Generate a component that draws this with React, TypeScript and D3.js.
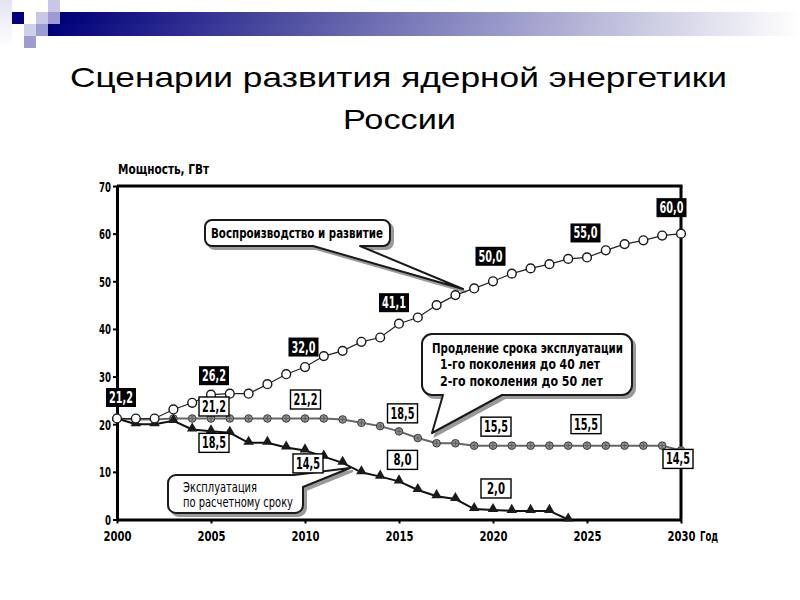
import { useEffect, useRef } from "react";
import { axisBottom, axisLeft, line, path, scaleLinear, select, symbol, symbolTriangle } from "d3";

// Years on the x axis
const years = [
  2000, 2001, 2002, 2003, 2004, 2005, 2006, 2007, 2008, 2009, 2010,
  2011, 2012, 2013, 2014, 2015, 2016, 2017, 2018, 2019, 2020,
  2021, 2022, 2023, 2024, 2025, 2026, 2027, 2028, 2029, 2030,
];

// "Воспроизводство и развитие", GW
const reproduction = [
  21.2, 21.2, 21.2, 23.1, 24.5, 26.2, 26.4, 26.4, 28.4, 30.5, 32.0,
  34.3, 35.4, 37.3, 38.2, 41.1, 42.4, 45.0, 47.1, 48.5, 50.0,
  51.6, 52.7, 53.6, 54.7, 55.0, 56.5, 57.8, 58.6, 59.6, 60.0,
];

// "Продление срока эксплуатации", GW
const extension = [
  21.2, 21.0, 21.0, 21.2, 21.2, 21.2, 21.2, 21.2, 21.2, 21.2, 21.2,
  21.2, 21.0, 20.3, 19.6, 18.5, 17.1, 16.0, 16.0, 15.5, 15.5,
  15.5, 15.5, 15.5, 15.5, 15.5, 15.5, 15.5, 15.5, 15.5, 14.5,
];

// "Эксплуатация по расчетному сроку", GW (ends in 2024)
const designLife = [
  21.2, 20.0, 20.0, 20.7, 18.9, 18.5, 18.2, 16.1, 16.1, 15.1, 14.5,
  13.2, 11.9, 9.9, 9.0, 8.0, 6.2, 4.9, 4.3, 2.2, 2.0,
  1.8, 1.8, 1.8, 0,
];

// years that carry a value label
const reproductionLabelYears = [2000, 2005, 2010, 2015, 2020, 2025, 2030];
const extensionLabelYears = [2005, 2010, 2015, 2020, 2025, 2030];
const designLabelYears = [2005, 2010, 2015, 2020];

const yTicks = [0, 10, 20, 30, 40, 50, 60, 70];
const xTicks = [2000, 2005, 2010, 2015, 2020, 2025, 2030];

// label placement relative to the point (px)
const reproductionOffsets = [[4, -21], [3, -19], [-1.5, -20], [-5, -21], [-2.5, -25], [-1.5, -24.5], [-9.5, -26]];
const extensionOffsets = [[3, -12], [0.5, -19], [3.5, -18], [3, -19], [-1, -21.5], [-3, 8.5]];
const designOffsets = [[3, 11.5], [3, 13], [3.5, -21.5], [3, -21.5]];

const COND = "'DejaVu Sans Condensed', 'DejaVu Sans', sans-serif";
const fmt = (v: number) => v.toFixed(1).replace(".", ",");
// the reference font is very narrow, so text widths are squeezed to fit
const narrow = (s: string, per: number) => s.length * per;

const margin = { top: 186, right: 119, bottom: 80.5, left: 117 };
const W = 800;
const H = 600;

const x = scaleLinear().domain([2000, 2030]).range([margin.left, W - margin.right]);
const y = scaleLinear().domain([0, 70]).range([H - margin.bottom, margin.top]);

function bubbleBottom(bx: number, by: number, w: number, h: number, r: number,
  xa: number, xb: number, tx: number, ty: number) {
  const p = path();
  p.moveTo(bx + r, by);
  p.lineTo(bx + w - r, by);
  p.arcTo(bx + w, by, bx + w, by + r, r);
  p.lineTo(bx + w, by + h - r);
  p.arcTo(bx + w, by + h, bx + w - r, by + h, r);
  p.lineTo(xb, by + h);
  p.lineTo(tx, ty);
  p.lineTo(xa, by + h);
  p.lineTo(bx + r, by + h);
  p.arcTo(bx, by + h, bx, by + h - r, r);
  p.lineTo(bx, by + r);
  p.arcTo(bx, by, bx + r, by, r);
  p.closePath();
  return p.toString();
}

function bubbleCorner(bx: number, by: number, w: number, h: number, r: number,
  xa: number, yb: number, tx: number, ty: number) {
  const p = path();
  p.moveTo(bx + r, by);
  p.lineTo(xa, by);
  p.lineTo(tx, ty);
  p.lineTo(bx + w, yb);
  p.lineTo(bx + w, by + h - r);
  p.arcTo(bx + w, by + h, bx + w - r, by + h, r);
  p.lineTo(bx + r, by + h);
  p.arcTo(bx, by + h, bx, by + h - r, r);
  p.lineTo(bx, by + r);
  p.arcTo(bx, by, bx + r, by, r);
  p.closePath();
  return p.toString();
}

const Bubble: React.FC<{ d: string }> = ({ d }) => (
  <>
    <path d={d} transform="translate(3,3)" fill="#9a9a9a" stroke="#9a9a9a" strokeWidth={2} />
    <path d={d} fill="#fff" stroke="#1a1a1a" strokeWidth={2} strokeLinejoin="round" />
  </>
);

const ValueLabel: React.FC<{ cx: number; cy: number; text: string; dark: boolean }> = ({ cx, cy, text, dark }) => {
  const w = 30;
  const h = 19;
  return (
    <g>
      <rect x={cx - w / 2} y={cy - h / 2} width={w} height={h}
        fill={dark ? "#000" : "#fff"} stroke="#000" strokeWidth={dark ? 0 : 1.4} />
      <text x={cx} y={cy + 5.5} textAnchor="middle" fontFamily={COND} fontWeight="bold"
        fontSize={15} fill={dark ? "#fff" : "#000"}
        textLength={narrow(text, 6)} lengthAdjust="spacingAndGlyphs">{text}</text>
    </g>
  );
};

const App: React.FC = () => {
  const yAxisRef = useRef<SVGGElement>(null);
  const xAxisRef = useRef<SVGGElement>(null);

  useEffect(() => {
    if (yAxisRef.current) {
      const g = select(yAxisRef.current);
      g.call(axisLeft(y).tickValues(yTicks).tickSize(4).tickSizeOuter(0).tickFormat((d) => String(d)));
      g.select(".domain").attr("stroke", "#000").attr("stroke-width", 3);
      g.selectAll(".tick line").attr("stroke", "#000").attr("stroke-width", 2);
      g.selectAll<SVGTextElement, number>(".tick text").attr("font-family", COND).attr("font-weight", "bold")
        .attr("font-size", 14).attr("fill", "#000").attr("x", -6).attr("dy", "0.36em")
        .attr("textLength", (d) => narrow(String(d), 6)).attr("lengthAdjust", "spacingAndGlyphs");
    }
    if (xAxisRef.current) {
      const g = select(xAxisRef.current);
      g.call(axisBottom(x).tickValues(xTicks).tickSize(4).tickSizeOuter(0).tickFormat((d) => String(d)));
      g.select(".domain").attr("stroke", "#000").attr("stroke-width", 3);
      g.selectAll(".tick line").attr("stroke", "#000").attr("stroke-width", 2);
      g.selectAll<SVGTextElement, number>(".tick text").attr("font-family", COND).attr("font-weight", "bold")
        .attr("font-size", 14).attr("fill", "#000").attr("y", 21).attr("dy", 0)
        .attr("textLength", 28).attr("lengthAdjust", "spacingAndGlyphs");
    }
  }, []);

  const lineGen = line<number>().x((_, i) => x(years[i])).y((v) => y(v));
  const tri = symbol().type(symbolTriangle).size(48)();

  const x0 = x(2000), x1 = x(2030), y0 = y(0), y1 = y(70);

  return (
    <svg width={W} height={H} style={{ position: "absolute", left: 0, top: 0, background: "#fff" }}>
      <defs>
        <linearGradient id="band" x1="0" x2="1" y1="0" y2="0">
          <stop offset="0" stopColor="#00007a" />
          <stop offset="0.5" stopColor="#8080bb" />
          <stop offset="1" stopColor="#ffffff" />
        </linearGradient>
        <linearGradient id="edge" x1="0" x2="0" y1="0" y2="1">
          <stop offset="0" stopColor="#e4e4f2" />
          <stop offset="1" stopColor="#ffffff" />
        </linearGradient>
      </defs>

      {/* slide header decoration */}
      <rect x={0} y={0} width={12} height={48} fill="url(#edge)" />
      <rect x={48} y={24} width={752} height={12} fill="url(#band)" />
      <rect x={60} y={12} width={740} height={12} fill="url(#band)" />
      <rect x={12} y={12} width={12} height={12} fill="#000080" />
      <rect x={36} y={12} width={12} height={12} fill="#c8c8e6" />
      <rect x={48} y={0} width={12} height={12} fill="#c8c8e6" />
      <rect x={48} y={12} width={12} height={12} fill="#9c9cd0" />
      <rect x={36} y={24} width={12} height={12} fill="#9c9cd0" />
      <rect x={24} y={24} width={12} height={12} fill="#cfcfea" />
      <rect x={24} y={36} width={12} height={12} fill="#9c9cd0" />

      {/* title */}
      <g fontFamily="'Liberation Sans', Arial, sans-serif" fontSize={28} fill="#000">
        <text x={398.5} y={87} textAnchor="middle" textLength={657} lengthAdjust="spacingAndGlyphs">
          Сценарии развития ядерной энергетики
        </text>
        <text x={399.5} y={129} textAnchor="middle" textLength={113} lengthAdjust="spacingAndGlyphs">
          России
        </text>
      </g>

      {/* frame */}
      <line x1={x0} x2={x1 + 1.5} y1={y1} y2={y1} stroke="#000" strokeWidth={3} />
      <line x1={x1} x2={x1} y1={y1} y2={y0} stroke="#000" strokeWidth={3} />

      <g ref={yAxisRef} transform={`translate(${x0},0)`} />
      <g ref={xAxisRef} transform={`translate(0,${y0})`} />

      <text x={118} y={174} fontFamily={COND} fontWeight="bold" fontSize={14}
        textLength={91} lengthAdjust="spacingAndGlyphs">Мощность, ГВт</text>
      <text x={700} y={540.5} fontFamily={COND} fontWeight="bold" fontSize={14}
        textLength={18} lengthAdjust="spacingAndGlyphs">Год</text>

      {/* callouts */}
      <Bubble d={bubbleBottom(205, 220, 185, 26, 7, 313, 360, 463, 289)} />
      <text x={297} y={238} textAnchor="middle" fontFamily={COND} fontWeight="bold" fontSize={14}
        textLength={172} lengthAdjust="spacingAndGlyphs">Воспроизводство и развитие</text>

      <Bubble d={bubbleBottom(422, 334, 210, 61, 10, 443, 502, 432, 433)} />
      <g fontFamily={COND} fontWeight="bold" fontSize={14}>
        <text x={432} y={353} textLength={191} lengthAdjust="spacingAndGlyphs">Продление срока эксплуатации</text>
        <text x={440} y={369} textLength={160} lengthAdjust="spacingAndGlyphs">1-го поколения до 40 лет</text>
        <text x={440} y={386} textLength={163} lengthAdjust="spacingAndGlyphs">2-го поколения до 50 лет</text>
      </g>

      <Bubble d={bubbleCorner(168, 475, 135, 38, 8, 294, 487, 350, 468)} />
      <g fontFamily={COND} fontSize={14}>
        <text x={183} y={492} textLength={74} lengthAdjust="spacingAndGlyphs">Эксплуатация</text>
        <text x={183} y={507} textLength={110} lengthAdjust="spacingAndGlyphs">по расчетному сроку</text>
      </g>

      {/* series: extension */}
      <path d={lineGen(extension) ?? ""} fill="none" stroke="#666" strokeWidth={2} />
      {extension.map((v, i) => (
        <g key={`ext-${years[i]}`} transform={`translate(${x(years[i])},${y(v)})`}>
          <circle r={3.8} fill="#8e8e8e" stroke="#3a3a3a" strokeWidth={1} />
          <path d="M-2.5,0H2.5M0,-2.5V2.5" stroke="#555" strokeWidth={0.8} />
        </g>
      ))}

      {/* series: design life */}
      <path d={lineGen(designLife) ?? ""} fill="none" stroke="#111" strokeWidth={2} />
      {designLife.map((v, i) => (
        <path key={`des-${years[i]}`} d={tri ?? ""} transform={`translate(${x(years[i])},${y(v) - 1})`} fill="#1a1a1a" />
      ))}

      {/* series: reproduction */}
      <path d={lineGen(reproduction) ?? ""} fill="none" stroke="#222" strokeWidth={1.2} />
      {reproduction.map((v, i) => (
        <circle key={`rep-${years[i]}`} cx={x(years[i])} cy={y(v)} r={4.4} fill="#fff" stroke="#1a1a1a" strokeWidth={1.4} />
      ))}

      {/* value labels */}
      {reproductionLabelYears.map((yr, k) => {
        const v = reproduction[years.indexOf(yr)];
        const [dx, dy] = reproductionOffsets[k];
        return <ValueLabel key={`rl-${yr}`} cx={x(yr) + dx} cy={y(v) + dy} text={fmt(v)} dark />;
      })}
      {extensionLabelYears.map((yr, k) => {
        const v = extension[years.indexOf(yr)];
        const [dx, dy] = extensionOffsets[k];
        return <ValueLabel key={`el-${yr}`} cx={x(yr) + dx} cy={y(v) + dy} text={fmt(v)} dark={false} />;
      })}
      {designLabelYears.map((yr, k) => {
        const v = designLife[years.indexOf(yr)];
        const [dx, dy] = designOffsets[k];
        return <ValueLabel key={`dl-${yr}`} cx={x(yr) + dx} cy={y(v) + dy} text={fmt(v)} dark={false} />;
      })}
    </svg>
  );
};

export default App;
